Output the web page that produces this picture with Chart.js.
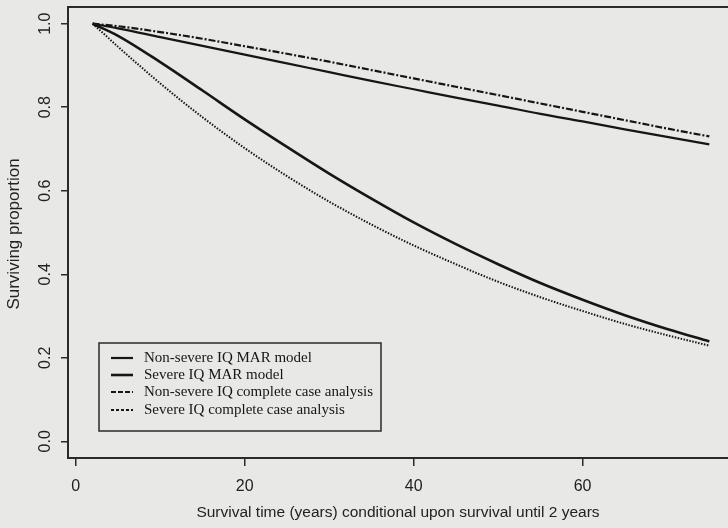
<!DOCTYPE html>
<html>
<head>
<meta charset="utf-8">
<script src="https://cdn.jsdelivr.net/npm/chart.js@4.4.1/dist/chart.umd.min.js"></script>
<style>
  html, body { margin: 0; padding: 0; background: #e8e8e6; overflow: hidden; width: 728px; height: 528px; }
  #wrap { width: 740px; height: 528px; }
</style>
</head>
<body>
<div id="wrap"><canvas id="c" width="740" height="528"></canvas></div>
<script>
// Survival time (years) since conditioning age
const years = [2, 5, 10, 15, 20, 25, 30, 35, 40, 45, 50, 55, 60, 65, 70, 75];
const nonSevereMAR = [1.000, 0.989, 0.968, 0.947, 0.926, 0.905, 0.884, 0.863, 0.843, 0.823, 0.804, 0.784, 0.766, 0.747, 0.729, 0.711];
const severeMAR    = [1.000, 0.971, 0.908, 0.840, 0.771, 0.705, 0.641, 0.581, 0.524, 0.472, 0.424, 0.379, 0.339, 0.302, 0.269, 0.239];
const nonSevereCC  = [1.000, 0.994, 0.980, 0.964, 0.946, 0.928, 0.909, 0.889, 0.869, 0.849, 0.829, 0.809, 0.789, 0.769, 0.749, 0.730];
const severeCC     = [1.000, 0.945, 0.857, 0.776, 0.702, 0.635, 0.574, 0.519, 0.469, 0.424, 0.382, 0.345, 0.312, 0.281, 0.254, 0.229];
const seriesNames = [
  "Non-severe IQ MAR model",
  "Severe IQ MAR model",
  "Non-severe IQ complete case analysis",
  "Severe IQ complete case analysis"
];
const xTicks = [0, 20, 40, 60];
const yTicks = [0.0, 0.2, 0.4, 0.6, 0.8, 1.0];
const xTitle = "Survival time (years) conditional upon survival until 2 years";
const yTitle = "Surviving proportion";

const ink = "#161616";
const styles = [
  { width: 2.2, dash: [] },
  { width: 2.6, dash: [] },
  { width: 2.2, dash: [7, 2, 2, 2] },
  { width: 2.0, dash: [1.5, 1.5] }
];
const seriesData = [nonSevereMAR, severeMAR, nonSevereCC, severeCC];

const datasets = seriesData.map((vals, i) => ({
  label: seriesNames[i],
  data: years.map((t, j) => ({ x: t, y: vals[j] })),
  borderColor: ink,
  borderWidth: styles[i].width,
  borderDash: styles[i].dash,
  pointRadius: 0,
  fill: false,
  cubicInterpolationMode: 'monotone'
}));

const decorPlugin = {
  id: 'decor',
  afterDraw(chart) {
    const ctx = chart.ctx;
    const a = chart.chartArea;
    const ys = chart.scales.y;
    ctx.save();
    // plot box
    ctx.strokeStyle = "#2a2a2a";
    ctx.lineWidth = 2;
    ctx.setLineDash([]);
    ctx.strokeRect(a.left, a.top, a.right - a.left, a.bottom - a.top);

    // rotated y tick labels
    ctx.fillStyle = "#222";
    ctx.font = "16px 'Liberation Sans', Arial, sans-serif";
    ctx.textAlign = "center";
    ctx.textBaseline = "middle";
    yTicks.forEach(v => {
      const py = ys.getPixelForValue(v);
      ctx.save();
      ctx.translate(46, py);
      ctx.rotate(-Math.PI / 2);
      ctx.fillText(v.toFixed(1), 0, 0);
      ctx.restore();
    });
    // y title
    ctx.font = "17px 'Liberation Sans', Arial, sans-serif";
    ctx.save();
    ctx.translate(14, 234);
    ctx.rotate(-Math.PI / 2);
    ctx.fillText(yTitle, 0, 0);
    ctx.restore();
    // x title
    ctx.font = "15.5px 'Liberation Sans', Arial, sans-serif";
    ctx.fillText(xTitle, 398, 513);

    // legend
    const lx = 99, ly = 343, lw = 282, lh = 88;
    ctx.fillStyle = "#e8e8e6";
    ctx.fillRect(lx, ly, lw, lh);
    ctx.strokeStyle = "#2a2a2a";
    ctx.lineWidth = 1.5;
    ctx.strokeRect(lx, ly, lw, lh);
    const rowsY = [358, 375, 392, 410];
    ctx.font = "15px 'Liberation Serif', 'Times New Roman', serif";
    ctx.textAlign = "left";
    ctx.fillStyle = "#161616";
    rowsY.forEach((ry, i) => {
      ctx.beginPath();
      ctx.strokeStyle = ink;
      ctx.lineWidth = styles[i].width;
      ctx.setLineDash(i === 2 ? [5, 2] : (i === 3 ? [3, 2] : []));
      ctx.moveTo(111, ry);
      ctx.lineTo(133, ry);
      ctx.stroke();
      ctx.setLineDash([]);
      ctx.fillText(seriesNames[i], 144, ry);
    });
    ctx.restore();
  }
};

new Chart(document.getElementById('c'), {
  type: 'line',
  data: { datasets },
  options: {
    responsive: false,
    animation: false,
    layout: { padding: { top: 7, right: 6, left: 0, bottom: 0 } },
    plugins: { legend: { display: false }, tooltip: { enabled: false } },
    scales: {
      x: {
        type: 'linear',
        min: -0.92,
        max: 77.92,
        afterBuildTicks: s => { s.ticks = xTicks.map(v => ({ value: v })); },
        afterFit: s => { s.height = 70; },
        grid: { display: true, drawOnChartArea: false, drawTicks: true, tickLength: 8, tickColor: "#2a2a2a", lineWidth: 1.5 },
        border: { display: false },
        ticks: { color: "#222", font: { family: "'Liberation Sans', Arial, sans-serif", size: 16 }, padding: 11, maxRotation: 0 }
      },
      y: {
        type: 'linear',
        min: -0.04,
        max: 1.04,
        afterBuildTicks: s => { s.ticks = yTicks.map(v => ({ value: v })); },
        afterFit: s => { s.width = 68; },
        grid: { display: true, drawOnChartArea: false, drawTicks: true, tickLength: 7, tickColor: "#2a2a2a", lineWidth: 1.5 },
        border: { display: false },
        ticks: { display: false }
      }
    }
  },
  plugins: [decorPlugin]
});
</script>
</body>
</html>
